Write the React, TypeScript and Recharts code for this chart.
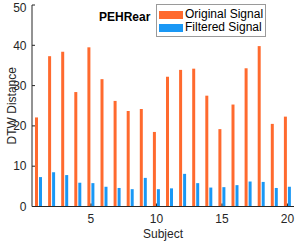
import { BarChart, Bar, XAxis, YAxis, Legend } from 'recharts';

const subjects = [1, 2, 3, 4, 5, 6, 7, 8, 9, 10, 11, 12, 13, 14, 15, 16, 17, 18, 19, 20];
const originalSignal = [22.1, 37.3, 38.4, 28.4, 39.5, 31.6, 26.2, 23.7, 24.2, 18.5, 32.2, 33.9, 34.2, 27.5, 19.2, 25.3, 34.3, 39.8, 20.5, 22.3];
const filteredSignal = [7.3, 8.5, 7.8, 5.9, 5.8, 4.9, 4.6, 4.3, 7.1, 4.3, 4.5, 8.1, 5.8, 4.7, 4.8, 5.3, 6.2, 6.1, 4.6, 4.9];
const seriesNames = ['Original Signal', 'Filtered Signal'];
const xTicks = [5, 10, 15, 20];
const yTicks = [0, 10, 20, 30, 40, 50];

const data = subjects.map((s, i) => ({
    subject: s,
    original: originalSignal[i],
    filtered: filteredSignal[i]
}));

const AXIS = '#262626';
const FONT = 'Liberation Sans, Arial, sans-serif';

function LegendBox({ payload }: any) {
    // keep the plotting order, not alphabetical
    const items = [...(payload || [])].sort(
        (a: any, b: any) => seriesNames.indexOf(a.value) - seriesNames.indexOf(b.value)
    );
    return (
        <div
            style={{
                background: '#fff',
                border: '1px solid #9a9a9a',
                padding: '3px 2px 2px 2px',
                fontFamily: FONT,
                fontSize: 12,
                lineHeight: '13px',
                color: '#000'
            }}
        >
            {items.map((entry: any) => (
                <div key={entry.value} style={{ display: 'flex', alignItems: 'center', height: 13, whiteSpace: 'nowrap' }}>
                    <span style={{ display: 'inline-block', width: 24, height: 8, background: entry.color, marginRight: 2 }} />
                    <span>{entry.value}</span>
                </div>
            ))}
        </div>
    );
}

export default function App() {
    return (
        <div style={{ position: 'absolute', left: 0, top: 0, width: 298, height: 242, background: '#fff' }}>
            <BarChart
                width={298}
                height={242}
                data={data}
                margin={{ top: 5, right: 4, left: 0, bottom: 0 }}
                barSize={3}
                barGap={1}
            >
                <XAxis
                    dataKey="subject"
                    type="number"
                    domain={[0.5, 20.5]}
                    allowDataOverflow
                    ticks={xTicks}
                    height={35.5}
                    stroke={AXIS}
                    tickSize={-3}
                    tickMargin={10.5}
                    tick={{ fill: AXIS, fontSize: 12, fontFamily: FONT }}
                    label={{ value: 'Subject', position: 'insideBottom', offset: 4, fill: AXIS, fontSize: 12, fontFamily: FONT }}
                />
                <XAxis
                    xAxisId="top"
                    orientation="top"
                    type="number"
                    domain={[0.5, 20.5]}
                    allowDataOverflow
                    ticks={xTicks}
                    height={0}
                    stroke={AXIS}
                    tickSize={-3}
                    tickFormatter={() => ''}
                />
                <YAxis
                    type="number"
                    domain={[0, 50]}
                    ticks={yTicks}
                    width={32}
                    stroke={AXIS}
                    tickSize={-3}
                    tickMargin={8.5}
                    tick={{ fill: AXIS, fontSize: 12, fontFamily: FONT }}
                    label={{ value: 'DTW Distance', angle: -90, position: 'insideLeft', offset: 12, style: { textAnchor: 'middle' }, fill: AXIS, fontSize: 12, fontFamily: FONT }}
                />
                <YAxis
                    yAxisId="right"
                    orientation="right"
                    type="number"
                    domain={[0, 50]}
                    ticks={yTicks}
                    width={0}
                    stroke={AXIS}
                    tickSize={-3}
                    tickFormatter={() => ''}
                />
                <Legend
                    layout="horizontal"
                    verticalAlign="middle"
                    align="center"
                    content={<LegendBox />}
                    wrapperStyle={{ top: 4, left: 156, width: 'auto' }}
                />
                <Bar dataKey="original" name="Original Signal" fill="#FF6A2E" isAnimationActive={false} />
                <Bar dataKey="filtered" name="Filtered Signal" fill="#1A98F5" isAnimationActive={false} />
            </BarChart>
            <div
                style={{
                    position: 'absolute',
                    left: 99,
                    top: 10,
                    fontFamily: FONT,
                    fontSize: 12,
                    fontWeight: 'bold',
                    color: '#000',
                    lineHeight: '14px'
                }}
            >
                PEHRear
            </div>
        </div>
    );
}
